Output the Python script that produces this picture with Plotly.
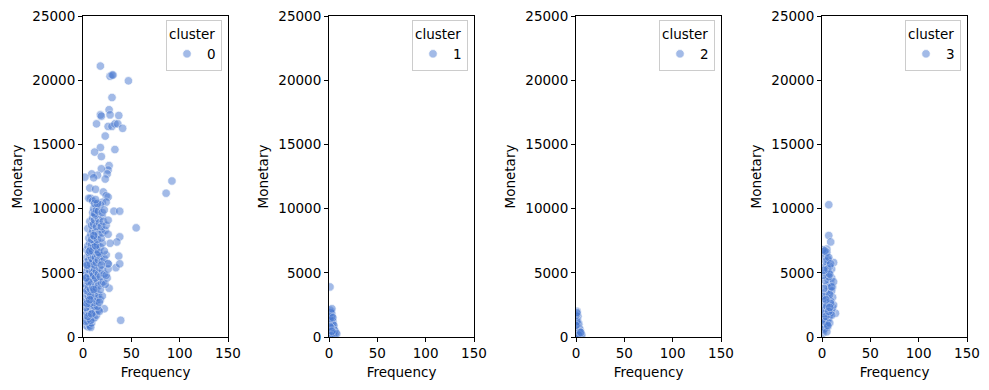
import plotly.graph_objects as go

# ---------------- data ----------------
c0_freq = [18, 28, 30, 31, 47, 30, 27, 18, 19, 28, 37, 14, 26, 30, 33, 36, 41, 23,
           18, 12, 33, 19, 27, 26, 19, 25, 23, 15, 9, 2, 11, 86, 92, 55, 39,
           32, 38, 38, 35, 28, 37, 34, 38, 26, 27, 22,
           5, 8, 6, 7, 13, 21, 24, 26, 20, 24, 10, 14,
           3, 5, 6, 7, 8, 9, 4, 10, 6, 12, 3, 8,
           2, 4, 5, 7, 8, 10, 11, 13, 14, 16, 17, 6, 9, 12, 3, 15,
           2, 3, 4, 5, 6, 7, 8, 9, 10, 11, 12, 13, 14, 15, 16, 18, 20, 6, 4, 17,
           2, 3, 4, 5, 6, 7, 8, 9, 10, 11, 12, 13, 14, 15, 16, 18, 19, 21, 23, 25,
           2, 3, 4, 5, 6, 7, 8, 9, 10, 11, 12, 13, 14, 16, 17, 18, 20, 22, 24, 26,
           3, 4, 5, 6, 7, 8, 9, 10, 11, 12, 13, 14, 15, 16, 18, 20, 22, 24, 26, 17, 19,
           4, 5, 6, 7, 8, 9, 10, 11, 12, 14, 15, 16, 18, 20, 22, 7, 13,
           6, 8, 9, 10, 12, 13, 15, 16, 18, 19, 20, 23, 26, 11,
           7, 9, 10, 11, 12, 14, 16, 17, 19, 20, 21, 24, 26, 13,
           10, 11, 12, 14, 16, 18, 20, 22, 12, 15, 13,
           4, 6, 8, 5, 7, 3, 9, 11]
c0_mon = [21100, 20300, 20400, 20400, 19950, 18650, 17700, 17300, 17200, 17300, 17250, 16600, 16400, 16400, 16600, 16600, 16250, 15650,
          14750, 14400, 14600, 14050, 13350, 13000, 13100, 12700, 12300, 12600, 12700, 12450, 12400, 11200, 12150, 8500, 1300,
          9800, 9800, 7800, 7400, 7300, 6300, 5400, 5700, 5700, 3800, 2200,
          8450, 10800, 10800, 11600, 11500, 11300, 11000, 10900, 10500, 10500, 10600, 10200,
          900, 800, 1000, 850, 750, 1100, 1300, 1400, 1450, 1500, 1200, 1300,
          1700, 1900, 2100, 1800, 2200, 1900, 2300, 2000, 1700, 2100, 2000, 2400, 2500, 2400, 2300, 2400,
          2700, 3000, 3300, 2800, 3100, 2600, 3400, 2900, 3200, 2700, 3000, 3400, 2800, 3100, 3300, 2900, 3200, 3500, 2600, 2700,
          3800, 4100, 3600, 4300, 3900, 4400, 3700, 4200, 3900, 4500, 3600, 4100, 3800, 4400, 4000, 3700, 4200, 4300, 4100, 4600,
          4800, 5100, 4600, 5300, 4900, 5200, 4700, 5400, 5000, 4800, 5300, 4600, 5100, 4900, 5400, 4700, 5200, 4900, 4800, 5300,
          5800, 6200, 5600, 6000, 6400, 5700, 6100, 5900, 6300, 5600, 6200, 5800, 6400, 6000, 6300, 5900, 6100, 6400, 5700, 6500, 5600,
          6800, 7100, 6600, 7300, 6900, 7200, 6700, 7000, 7400, 6800, 7200, 6600, 7000, 7300, 6700, 6700, 7100,
          7700, 8000, 7600, 8300, 7800, 8200, 7600, 8000, 8400, 7700, 8100, 8300, 8000, 7900,
          9000, 8700, 9300, 8800, 9100, 8600, 9200, 8900, 8600, 9400, 9000, 8700, 9100, 9500,
          9700, 10000, 9600, 9900, 9800, 10300, 9700, 9900, 10400, 10400, 10700,
          5600, 4300, 3200, 1600, 2900, 4600, 1800, 3700]

c1_freq = [1, 1, 2, 3, 1, 2, 3, 4, 1, 2, 3, 4, 5, 1, 2, 3, 4, 6, 7, 1, 2, 3, 4, 5, 6, 2, 1, 5, 8, 2, 3, 1, 2, 4, 3]
c1_mon = [3900, 2100, 2000, 1800, 1700, 1500, 1300, 1200, 1100, 900, 800, 700, 600, 500, 400, 300, 250, 200, 350, 200,
          1200, 1600, 1000, 900, 500, 700, 1400, 300, 250, 1900, 2200, 800, 100, 1500, 450]

c2_freq = [1, 1, 2, 1, 2, 3, 1, 2, 3, 4, 1, 2, 3, 4, 5, 6, 1, 2, 3, 4, 2, 1, 3, 5, 0, 0, 1]
c2_mon = [2000, 1800, 1600, 1400, 1200, 1000, 900, 800, 700, 600, 500, 400, 300, 250, 200, 150, 100, 200, 500, 400,
          1000, 1200, 150, 350, 1700, 900, 1900]

c3_freq = [7, 7, 9, 5, 12, 10, 11, 14, 4, 6,
           1, 2, 3, 4, 5, 6, 7, 8, 9, 10, 11, 12,
           1, 2, 3, 4, 5, 6, 7, 8, 9, 10, 11,
           1, 2, 3, 4, 5, 6, 7, 8, 9, 10, 12,
           1, 2, 3, 4, 5, 6, 7, 8, 9, 10,
           1, 2, 3, 4, 5, 6, 7, 8, 9,
           1, 2, 3, 4, 5, 6, 7, 8, 10, 3, 5, 2, 6, 4, 8]
c3_mon = [10300, 7900, 7400, 6850, 5800, 5300, 3900, 1850, 6500, 6100,
          300, 500, 700, 900, 1100, 1300, 1500, 1700, 1900, 2100, 2300, 2500,
          1000, 1400, 1800, 2200, 2600, 3000, 3400, 3800, 4200, 4600, 3100,
          2000, 2500, 3000, 3500, 4000, 4500, 5000, 5500, 2800, 3600, 4300,
          3200, 3800, 4400, 5000, 5600, 6000, 4700, 3300, 2600, 1700,
          4800, 5400, 6300, 5900, 6600, 5300, 6200, 4900, 5700,
          6800, 600, 1200, 1600, 2400, 800, 2000, 1100, 3900, 6700, 400, 5200, 900, 2900, 2300]

clusters = ["0", "1", "2", "3"]
freqs = [c0_freq, c1_freq, c2_freq, c3_freq]
mons = [c0_mon, c1_mon, c2_mon, c3_mon]

x_ticks = [0, 50, 100, 150]
y_ticks = [0, 5000, 10000, 15000, 20000, 25000]

# ---------------- layout ----------------
W, H = 989, 390
ML, MR, MT, MB = 83, 22, 16, 53
PW, PH = W - ML - MR, H - MT - MB
x_px = [(83, 228), (329, 474), (576, 721), (822, 967)]

fig = go.Figure()
font = dict(family="DejaVu Sans", size=13.5, color="black")

for i in range(4):
    n = "" if i == 0 else str(i + 1)
    fig.add_trace(go.Scatter(
        x=freqs[i], y=mons[i], mode="markers", name=clusters[i],
        xaxis="x" + n, yaxis="y" + n, legend="legend" + n,
        marker=dict(size=8.5, color="#4878d0", opacity=0.5,
                    line=dict(color="white", width=0.7)),
        showlegend=True,
    ))
    x0, x1 = x_px[i]
    dom_x = [(x0 - ML) / PW, (x1 - ML) / PW]
    common = dict(showline=True, mirror=True, linecolor="black", linewidth=1,
                  ticks="outside", ticklen=4, tickcolor="black", tickwidth=1,
                  showgrid=False, zeroline=False, tickfont=font, automargin=False)
    fig.layout["xaxis" + n] = dict(domain=dom_x, anchor="y" + n, range=[0, 150],
                                   tickvals=x_ticks, ticktext=[str(v) for v in x_ticks],
                                   title=dict(text="Frequency", font=font, standoff=7), **common)
    fig.layout["yaxis" + n] = dict(domain=[0, 1], anchor="x" + n, range=[0, 25000],
                                   tickvals=y_ticks, ticktext=[str(v) for v in y_ticks],
                                   title=dict(text="Monetary", font=font, standoff=6), **common)
    fig.layout["legend" + n] = dict(
        x=(x1 - 6 - ML) / PW, xanchor="right", y=1 - 4 / PH, yanchor="top",
        title=dict(text="cluster", font=font, side="top"),
        font=font, bgcolor="rgba(255,255,255,0.8)", bordercolor="#cccccc", borderwidth=1,
        itemwidth=30, tracegroupgap=0,
    )

fig.update_layout(width=W, height=H, margin=dict(l=ML, r=MR, t=MT, b=MB, autoexpand=False),
                  plot_bgcolor="white", paper_bgcolor="white", font=font)

fig.write_html("out.html", config={"displayModeBar": False},
               post_script="document.body.style.margin='0';")
